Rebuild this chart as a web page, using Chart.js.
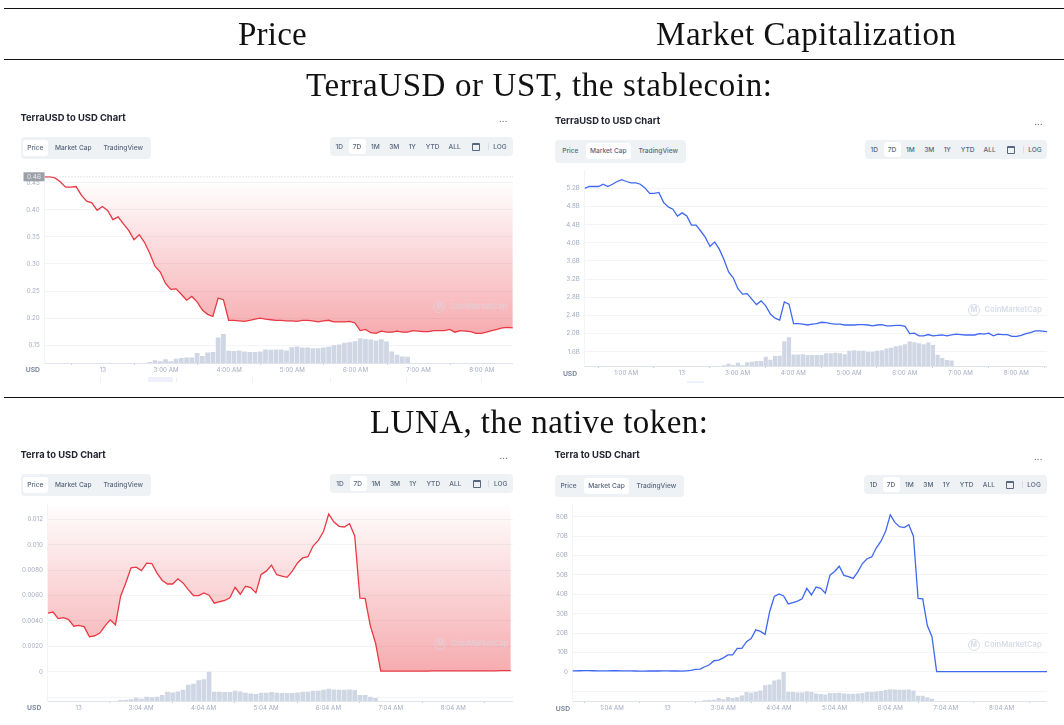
<!DOCTYPE html>
<html>
<head>
<meta charset="utf-8">
<title>TerraUSD and LUNA charts</title>
<script src="https://cdn.jsdelivr.net/npm/chart.js@4"></script>
<style>
  html, body { margin: 0; padding: 0; background: #fff; }
  #page { position: relative; width: 1064px; height: 725px; overflow: hidden; font-family: Inter, sans-serif; }
  #panels { position: absolute; left: 0; top: 0; width: 1064px; height: 725px; filter: blur(0.4px); }
  #panels canvas { position: absolute; }
  .rule { position: absolute; left: 4px; right: 0; height: 1px; background: #111; }
  .head { position: absolute; font-family: "Liberation Serif", serif; font-size: 33px; color: #111; white-space: nowrap; line-height: 36px; }
  .abs { position: absolute; white-space: nowrap; }
  .title { font-weight: 700; font-size: 9.4px; color: #222531; line-height: 12px; overflow: hidden; }
  .box { position: absolute; background: #eff2f5; border-radius: 4px; }
  .pill { position: absolute; background: #fff; border-radius: 3px; }
  .lbl { position: absolute; transform: translateX(-50%); font-size: 6.6px; font-weight: 500; color: #58667e; line-height: 10px; white-space: nowrap; }
  .usd { font-size: 6.8px; font-weight: 700; color: #7f8ba0; line-height: 10px; }
  .mark { font-size: 7.6px; font-weight: 600; color: #d6dce8; line-height: 12px; }
  .ring { position: absolute; width: 10px; height: 10px; border: 1.3px solid #d6dce8; border-radius: 50%; font-size: 7px; line-height: 10px; text-align: center; color: #d6dce8; font-weight: 700; }
  .cal { position: absolute; width: 6px; height: 5px; border: 1px solid #58667e; border-top-width: 2px; border-radius: 1px; }
  .sep { position: absolute; width: 1px; height: 7px; background: #d8dde6; }
  .nav { position: absolute; background: #eef0fb; }
</style>
</head>
<body>
<div id="page"><div id="panels"></div></div>
<script>
const ustPrice = [
  0.461, 0.461, 0.459, 0.452, 0.442, 0.442, 0.443, 0.427, 0.416, 0.413,
  0.399, 0.406, 0.399, 0.382, 0.387, 0.374, 0.362, 0.345, 0.354, 0.340,
  0.320, 0.296, 0.285, 0.264, 0.253, 0.254, 0.244, 0.233, 0.240, 0.230,
  0.215, 0.207, 0.203, 0.237, 0.234, 0.196, 0.196, 0.195, 0.194, 0.196,
  0.198, 0.200, 0.198, 0.197, 0.196, 0.196, 0.195, 0.195, 0.194, 0.196,
  0.196, 0.195, 0.193, 0.195, 0.196, 0.193, 0.193, 0.193, 0.194, 0.191,
  0.177, 0.179, 0.173, 0.172, 0.176, 0.174, 0.174, 0.176, 0.174, 0.174,
  0.177, 0.176, 0.175, 0.175, 0.177, 0.177, 0.177, 0.179, 0.174, 0.177,
  0.176, 0.175, 0.172, 0.172, 0.174, 0.177, 0.179, 0.182, 0.183, 0.182
];
const ustPriceVolume = [
  0, 0, 0, 0, 0, 0, 0, 0, 0, 0,
  0, 0, 0, 0, 0, 0, 0, 0, 0, 0,
  3, 8, 5, 11, 5, 13, 15, 17, 17, 30,
  21, 32, 33, 77, 88, 37, 36, 38, 35, 33,
  33, 35, 41, 40, 41, 41, 38, 48, 50, 47,
  47, 45, 45, 47, 49, 54, 56, 61, 63, 66,
  75, 73, 71, 68, 72, 65, 35, 25, 20, 19,
  0, 0, 0, 0, 0, 0, 0, 0, 0, 0,
  0, 0, 0, 0, 0, 0, 0, 0, 0, 0
];
const ustCap = [
  5.20, 5.24, 5.24, 5.24, 5.29, 5.24, 5.29, 5.35, 5.39, 5.35,
  5.32, 5.32, 5.29, 5.21, 5.09, 5.09, 5.11, 4.89, 4.79, 4.74,
  4.59, 4.66, 4.59, 4.39, 4.39, 4.26, 4.12, 3.92, 4.02, 3.86,
  3.63, 3.36, 3.23, 2.99, 2.87, 2.88, 2.76, 2.64, 2.72, 2.61,
  2.43, 2.34, 2.30, 2.70, 2.65, 2.22, 2.22, 2.21, 2.19, 2.21,
  2.22, 2.25, 2.24, 2.22, 2.21, 2.21, 2.19, 2.19, 2.19, 2.20,
  2.20, 2.19, 2.17, 2.19, 2.20, 2.17, 2.17, 2.18, 2.18, 2.16,
  2.00, 2.01, 1.95, 1.95, 1.98, 1.95, 1.96, 1.97, 1.95, 1.97,
  1.99, 1.98, 1.97, 1.97, 1.97, 2.00, 1.99, 2.01, 1.95, 1.99,
  1.98, 1.98, 1.94, 1.94, 1.96, 2.00, 2.02, 2.06, 2.06, 2.05,
  2.04
];
const ustCapVolume = [
  0, 0, 0, 0, 0, 0, 0, 0, 0, 0,
  0, 0, 0, 0, 0, 0, 0, 0, 0, 0,
  0, 0, 0, 0, 0, 0, 0, 0, 0, 0,
  2, 7, 3, 10, 2, 11, 13, 15, 15, 28,
  19, 30, 31, 75, 87, 35, 35, 36, 33, 33,
  33, 33, 39, 39, 40, 39, 36, 46, 48, 46,
  46, 43, 43, 46, 48, 53, 55, 60, 62, 66,
  74, 72, 69, 66, 71, 64, 34, 24, 18, 17,
  0, 0, 0, 0, 0, 0, 0, 0, 0, 0,
  0, 0, 0, 0, 0, 0, 0, 0, 0, 0,
  0
];
const lunaPrice = [
  0.00462, 0.00470, 0.00418, 0.00426, 0.00410, 0.00358, 0.00364, 0.00353, 0.00275, 0.00283,
  0.00304, 0.00361, 0.00408, 0.00369, 0.00595, 0.00701, 0.00818, 0.00823, 0.00797, 0.00855,
  0.00852, 0.00777, 0.00719, 0.00691, 0.00691, 0.00732, 0.00699, 0.00647, 0.00600, 0.00600,
  0.00621, 0.00603, 0.00540, 0.00551, 0.00561, 0.00582, 0.00665, 0.00610, 0.00673, 0.00662,
  0.00621, 0.00766, 0.00792, 0.00839, 0.00764, 0.00753, 0.00743, 0.00792, 0.00857, 0.00896,
  0.00906, 0.00990, 0.01034, 0.01104, 0.01242, 0.01179, 0.01145, 0.01140, 0.01166, 0.01070,
  0.00579, 0.00577, 0.00361, 0.00226, 0.00005, 0.00005, 0.00005, 0.00005, 0.00005, 0.00005,
  0.00005, 0.00005, 0.00005, 0.00005, 0.00006, 0.00006, 0.00006, 0.00006, 0.00006, 0.00007,
  0.00007, 0.00007, 0.00006, 0.00006, 0.00006, 0.00007, 0.00007, 0.00008, 0.00008, 0.00008
];
const lunaPriceVolume = [
  0, 0, 0, 0, 0, 0, 0, 0, 0, 0,
  0, 0, 0, 0, 3, 4, 5, 10, 7, 13,
  11, 13, 18, 28, 26, 29, 34, 49, 52, 63,
  66, 89, 28, 28, 27, 27, 31, 29, 25, 23,
  21, 25, 25, 27, 25, 24, 24, 24, 26, 28,
  28, 31, 31, 34, 37, 35, 34, 34, 35, 33,
  18, 18, 13, 9, 0, 0, 0, 0, 0, 0,
  0, 0, 0, 0, 0, 0, 0, 0, 0, 0,
  0, 0, 0, 0, 0, 0, 0, 0, 0, 0
];
const lunaCap = [
  0.6, 0.6, 0.65, 0.7, 0.7, 0.65, 0.6, 0.6, 0.6, 0.65,
  0.65, 0.6, 0.55, 0.55, 0.5, 0.45, 0.45, 0.5, 0.5, 0.5,
  0.55, 0.55, 0.5, 0.5, 0.45, 0.6, 0.8, 1.3, 1.5, 2.7,
  3.7, 5.8, 6.1, 7.3, 8.8, 8.8, 12.2, 12.2, 15.6, 17.2,
  21.7, 20.9, 19.4, 31.2, 38.9, 40.2, 39.2, 35.1, 35.8, 36.5,
  37.7, 43.1, 39.7, 43.8, 43.1, 40.6, 49.9, 51.8, 54.5, 49.8,
  49.1, 48.2, 51.6, 55.9, 58.4, 59.3, 64.0, 67.4, 72.5, 81.0,
  77.1, 74.9, 74.4, 75.9, 70.0, 37.9, 37.7, 23.9, 18.2, 0.17,
  0.17, 0.17, 0.17, 0.18, 0.18, 0.18, 0.18, 0.18, 0.19, 0.19,
  0.19, 0.2, 0.2, 0.2, 0.2, 0.2, 0.2, 0.21, 0.21, 0.21,
  0.2, 0.2, 0.2, 0.2
];
const lunaCapVolume = [
  0, 0, 0, 0, 0, 0, 0, 0, 0, 0,
  0, 0, 0, 0, 0, 0, 0, 0, 0, 0,
  0, 0, 0, 0, 0, 0, 0, 0, 0, 2,
  3, 4, 9, 5, 12, 9, 11, 17, 27, 25,
  28, 32, 48, 50, 62, 65, 88, 27, 27, 26,
  26, 29, 27, 23, 21, 20, 24, 24, 25, 23,
  22, 22, 23, 24, 27, 27, 29, 30, 33, 36,
  35, 34, 34, 35, 32, 16, 16, 11, 7, 0,
  0, 0, 0, 0, 0, 0, 0, 0, 0, 0,
  0, 0, 0, 0, 0, 0, 0, 0, 0, 0,
  0, 0, 0, 0
];

const ustPriceTicks = [0.15, 0.20, 0.25, 0.30, 0.35, 0.40, 0.45];
const ustPriceTickLabels = ['0.15', '0.20', '0.25', '0.30', '0.35', '0.40', '0.45'];
const ustCapTicks = [1.6, 2.0, 2.4, 2.8, 3.2, 3.6, 4.0, 4.4, 4.8, 5.2];
const ustCapTickLabels = ['1.6B', '2.0B', '2.4B', '2.8B', '3.2B', '3.6B', '4.0B', '4.4B', '4.8B', '5.2B'];
const lunaPriceTicks = [-0.002, 0, 0.002, 0.004, 0.006, 0.008, 0.010, 0.012];
const lunaPriceTickLabels = ['', '0', '0.0020', '0.0040', '0.0060', '0.0080', '0.010', '0.012'];
const lunaCapTicks = [-10, 0, 10, 20, 30, 40, 50, 60, 70, 80];
const lunaCapTickLabels = ['', '0', '10B', '20B', '30B', '40B', '50B', '60B', '70B', '80B'];

const ustPriceHours = [2, 3, 4, 5, 6, 7, 8];
const ustPriceHourLabels = ['13', '3:00 AM', '4:00 AM', '5:00 AM', '6:00 AM', '7:00 AM', '8:00 AM'];
const ustCapHours = [1, 2, 3, 4, 5, 6, 7, 8];
const ustCapHourLabels = ['1:00 AM', '13', '3:00 AM', '4:00 AM', '5:00 AM', '6:00 AM', '7:00 AM', '8:00 AM'];
const lunaPriceHours = [2, 3, 4, 5, 6, 7, 8];
const lunaPriceHourLabels = ['13', '3:04 AM', '4:04 AM', '5:04 AM', '6:04 AM', '7:04 AM', '8:04 AM'];
const lunaCapHours = [1, 2, 3, 4, 5, 6, 7, 8];
const lunaCapHourLabels = ['1:04 AM', '13', '3:04 AM', '4:04 AM', '5:04 AM', '6:04 AM', '7:04 AM', '8:04 AM'];

const tabNames = ['Price', 'Market Cap', 'TradingView'];
const tabSpots = [14.3, 52.3, 102.2];
const rangeNames = ['1D', '7D', '1M', '3M', '1Y', 'YTD', 'ALL'];
const rangeSpots = [9.3, 27, 45.3, 64.3, 82.3, 102.6, 124.7];

const RED = '#ea3943';
const BLUE = '#3f68f2';
const BAR = '#cfd6e4';
const GRID = '#f3f4f7';
const TICK = '#a3adc0';

const page = document.getElementById('page');
const panels = document.getElementById('panels');

function el(cls, left, top, text, parent) {
  const d = document.createElement('div');
  d.className = cls;
  d.style.left = left + 'px';
  d.style.top = top + 'px';
  if (text) d.textContent = text;
  (parent || panels).appendChild(d);
  return d;
}

function rule(y) { el('rule', 4, y, '', page); }

// stretch the tracking so the serif text fills the width it has in the table
function head(text, left, y, width) {
  const d = el('head', left, y, text, page);
  const gap = (width - d.getBoundingClientRect().width) / (text.length - 1);
  d.style.letterSpacing = gap + 'px';
}

rule(8);
rule(59);
rule(397);
head('Price', 238, 16, 68.7);
head('Market Capitalization', 656, 16, 300);
head('TerraUSD or UST, the stablecoin:', 306, 67, 466);
head('LUNA, the native token:', 370, 404, 338);

// the price line carries a marker for the opening value on the first chart
const openMarker = {
  id: 'openMarker',
  afterDatasetsDraw(chart, args, opts) {
    if (opts.value == null) return;
    const { ctx, chartArea, scales } = chart;
    const y = scales.y.getPixelForValue(opts.value);
    ctx.save();
    ctx.strokeStyle = '#c4c9d2';
    ctx.setLineDash([1, 2]);
    ctx.beginPath();
    ctx.moveTo(chartArea.left, y);
    ctx.lineTo(chartArea.right, y);
    ctx.stroke();
    ctx.setLineDash([]);
    ctx.fillStyle = '#9a9fa8';
    ctx.fillRect(chartArea.left - 21, y - 4.5, 21, 9);
    ctx.fillStyle = '#eef0f3';
    ctx.font = '6.6px Inter';
    ctx.textAlign = 'center';
    ctx.textBaseline = 'middle';
    ctx.fillText(opts.label, chartArea.left - 10.5, y);
    ctx.restore();
  }
};
Chart.register(openMarker);

function makePanel(p) {
  // header bits around the plot
  const title = el('abs title', p.titleX, p.titleY - 6, p.title);
  title.style.width = '125px';
  const dots = el('abs', p.dotsX - 3, p.dotsY - 6, '...');
  dots.style.cssText += 'font-size:8px;font-weight:700;color:#58667e;line-height:8px;letter-spacing:0.2px;';

  const tabs = el('box', p.tabsX, p.tabsY);
  tabs.style.width = p.tabsW + 'px';
  tabs.style.height = '22.3px';
  const pill = el('pill', p.active === 0 ? 2 : 29.6 + p.shift, 3, '', tabs);
  pill.style.width = (p.active === 0 ? 24.8 : 45.6) + 'px';
  pill.style.height = '15.7px';
  tabSpots.forEach((c, i) => {
    el('lbl', c + p.shift, 6, tabNames[i], tabs);
  });

  const range = el('box', p.rangeX, p.rangeY);
  range.style.width = p.plotRight - p.rangeX + 'px';
  range.style.height = '19px';
  const rp = el('pill', 18.8 + p.rangeShift, 2, '', range);
  rp.style.width = '17px';
  rp.style.height = '15px';
  rangeNames.forEach((n, i) => el('lbl', rangeSpots[i] + p.rangeShift, 4.5, n, range));
  el('cal', 142 + p.rangeShift, 5.5, '', range);
  el('sep', 157.6 + p.rangeShift, 6, '', range);
  el('lbl', 170 + p.rangeShift, 4.5, 'LOG', range);

  // watermark, it sits under the red fill on the price charts
  const ring = el('ring', p.markX - 6, p.markY - 6, 'M');
  const mark = el('abs mark', p.markX + 10.5, p.markY - 6, 'CoinMarketCap');
  if (p.filled) {
    ring.style.opacity = 0.55;
    mark.style.opacity = 0.55;
  }

  el('abs usd', p.usdX, p.usdY - 5, 'USD');
  (p.nav || []).forEach(n => {
    const d = el('nav', n[0], n[1]);
    d.style.width = n[2] + 'px';
    d.style.height = n[3] + 'px';
  });

  // plot
  const canvasLeft = p.left;
  const canvasTop = p.plotTop - 6;
  const axisHeight = 20;
  const canvas = document.createElement('canvas');
  canvas.width = Math.ceil(p.plotRight - canvasLeft);
  canvas.height = Math.ceil(p.plotBottom - canvasTop + axisHeight);
  canvas.style.left = canvasLeft + 'px';
  canvas.style.top = canvasTop + 'px';
  panels.insertBefore(canvas, panels.firstChild);

  const lineData = p.values.map((v, i) => ({ x: p.firstHour + i / 12, y: v }));
  const barData = p.volume.map((v, i) => ({ x: p.firstHour + i / 12, y: v }));
  const lowest = Math.min(...p.values);

  new Chart(canvas, {
    data: {
      datasets: [
        {
          type: 'line',
          data: lineData,
          order: 0,
          borderColor: p.color,
          borderWidth: 1.3,
          pointRadius: 0,
          tension: 0,
          yAxisID: 'y',
          xAxisID: 'x',
          fill: p.filled ? 'end' : false,
          backgroundColor: p.filled ? (ctx) => {
            const { chartArea, scales } = ctx.chart;
            if (!chartArea) return 'transparent';
            const g = ctx.chart.ctx.createLinearGradient(0, p.fadeTop, 0, scales.y.getPixelForValue(lowest));
            g.addColorStop(0, 'rgba(234,57,67,0)');
            g.addColorStop(1, 'rgba(234,57,67,0.42)');
            return g;
          } : 'transparent'
        },
        {
          type: 'bar',
          data: barData,
          order: 1,
          backgroundColor: BAR,
          barPercentage: 0.9,
          categoryPercentage: 1,
          yAxisID: 'vol',
          xAxisID: 'x'
        }
      ]
    },
    options: {
      responsive: false,
      animation: false,
      layout: { padding: 0 },
      plugins: {
        legend: { display: false },
        tooltip: { enabled: false },
        openMarker: { value: p.openValue, label: p.openLabel }
      },
      scales: {
        x: {
          type: 'linear',
          offset: false,
          min: p.xMin,
          max: p.xMax,
          afterBuildTicks: (s) => { s.ticks = p.hours.map(h => ({ value: h })); },
          afterFit: (s) => { s.height = axisHeight; },
          ticks: {
            autoSkip: false,
            maxRotation: 0,
            color: TICK,
            padding: 1,
            font: { family: 'Inter', size: 6.2 },
            callback: (v) => p.hourLabels[p.hours.indexOf(v)]
          },
          border: { color: '#dfe3ea' },
          grid: { drawOnChartArea: false, drawTicks: true, tickLength: 2, color: '#c6ccd8' }
        },
        y: {
          position: 'left',
          min: p.yMin,
          max: p.yMax,
          afterBuildTicks: (s) => { s.ticks = p.ticks.map(t => ({ value: t })); },
          afterFit: (s) => { s.width = p.plotLeft - canvasLeft; },
          ticks: {
            autoSkip: false,
            color: TICK,
            padding: 4.8,
            font: { family: 'Inter', size: 6.2 },
            callback: (v) => p.tickLabels[p.ticks.indexOf(v)]
          },
          border: { color: GRID },
          grid: { color: GRID, drawTicks: false, tickLength: 0 }
        },
        vol: {
          display: false,
          min: 0,
          max: p.volMax
        }
      }
    }
  });
}

makePanel({
  title: 'TerraUSD to USD Chart', titleX: 20.5, titleY: 118, dotsX: 502, dotsY: 121,
  tabsX: 21, tabsY: 137, tabsW: 129.6, rangeX: 330, rangeY: 137, active: 0, shift: 0, rangeShift: 0,
  markX: 439.4, markY: 306.7, usdX: 25.7, usdY: 370,
  nav: [[148, 377, 25, 5], [99.8, 377, 1, 5], [176, 377, 1, 5], [252.4, 377, 1, 5], [329.5, 377, 1, 5], [405.5, 377, 1, 5], [481, 377, 1, 5]],
  left: 20, plotLeft: 44.5, plotRight: 513, plotTop: 168, plotBottom: 362.5,
  xMin: 1.075, xMax: 8.495, firstHour: 1.075,
  yMin: 0.1171, yMax: 0.4726, volMax: 583, fadeTop: 18,
  values: ustPrice, volume: ustPriceVolume, color: RED, filled: true,
  ticks: ustPriceTicks, tickLabels: ustPriceTickLabels,
  hours: ustPriceHours, hourLabels: ustPriceHourLabels,
  openValue: 0.461, openLabel: '0.46'
});
makePanel({
  title: 'TerraUSD to USD Chart', titleX: 555, titleY: 121, dotsX: 1037.2, dotsY: 124,
  tabsX: 555, tabsY: 140.3, tabsW: 130.7, rangeX: 864.5, rangeY: 140.3, active: 1, shift: 1, rangeShift: 0.5,
  markX: 974, markY: 310, usdX: 562.9, usdY: 374,
  nav: [[687, 381, 17, 2]],
  left: 540, plotLeft: 584.6, plotRight: 1047, plotTop: 168.3, plotBottom: 366,
  xMin: 0.255, xMax: 8.551, firstHour: 0.255,
  yMin: 1.287, yMax: 5.592, volMax: 593,
  values: ustCap, volume: ustCapVolume, color: BLUE, filled: false,
  ticks: ustCapTicks, tickLabels: ustCapTickLabels,
  hours: ustCapHours, hourLabels: ustCapHourLabels
});
makePanel({
  title: 'Terra to USD Chart', titleX: 20.5, titleY: 454.7, dotsX: 502.5, dotsY: 458,
  tabsX: 21, tabsY: 474, tabsW: 129.6, rangeX: 330, rangeY: 474, active: 0, shift: 0, rangeShift: 0.7,
  markX: 440.4, markY: 644, usdX: 27.1, usdY: 707.7,
  left: 12, plotLeft: 47.8, plotRight: 513, plotTop: 501.7, plotBottom: 700.3,
  xMin: 1.505, xMax: 8.957, firstHour: 1.505,
  yMin: -0.00231, yMax: 0.01317, volMax: 596, fadeTop: 6,
  values: lunaPrice, volume: lunaPriceVolume, color: RED, filled: true,
  ticks: lunaPriceTicks, tickLabels: lunaPriceTickLabels,
  hours: lunaPriceHours, hourLabels: lunaPriceHourLabels
});
makePanel({
  title: 'Terra to USD Chart', titleX: 554.4, titleY: 455.3, dotsX: 1036.9, dotsY: 458.7,
  tabsX: 555, tabsY: 475, tabsW: 129, rangeX: 863.8, rangeY: 475, active: 1, shift: -0.8, rangeShift: 0.3,
  markX: 973.8, markY: 645.3, usdX: 555.8, usdY: 709,
  left: 540, plotLeft: 572.7, plotRight: 1047, plotTop: 503.3, plotBottom: 701,
  xMin: 0.293, xMax: 8.817, firstHour: 0.25,
  yMin: -14.95, yMax: 85.8, volMax: 593,
  values: lunaCap, volume: lunaCapVolume, color: BLUE, filled: false,
  ticks: lunaCapTicks, tickLabels: lunaCapTickLabels,
  hours: lunaCapHours, hourLabels: lunaCapHourLabels
});
</script>
</body>
</html>
